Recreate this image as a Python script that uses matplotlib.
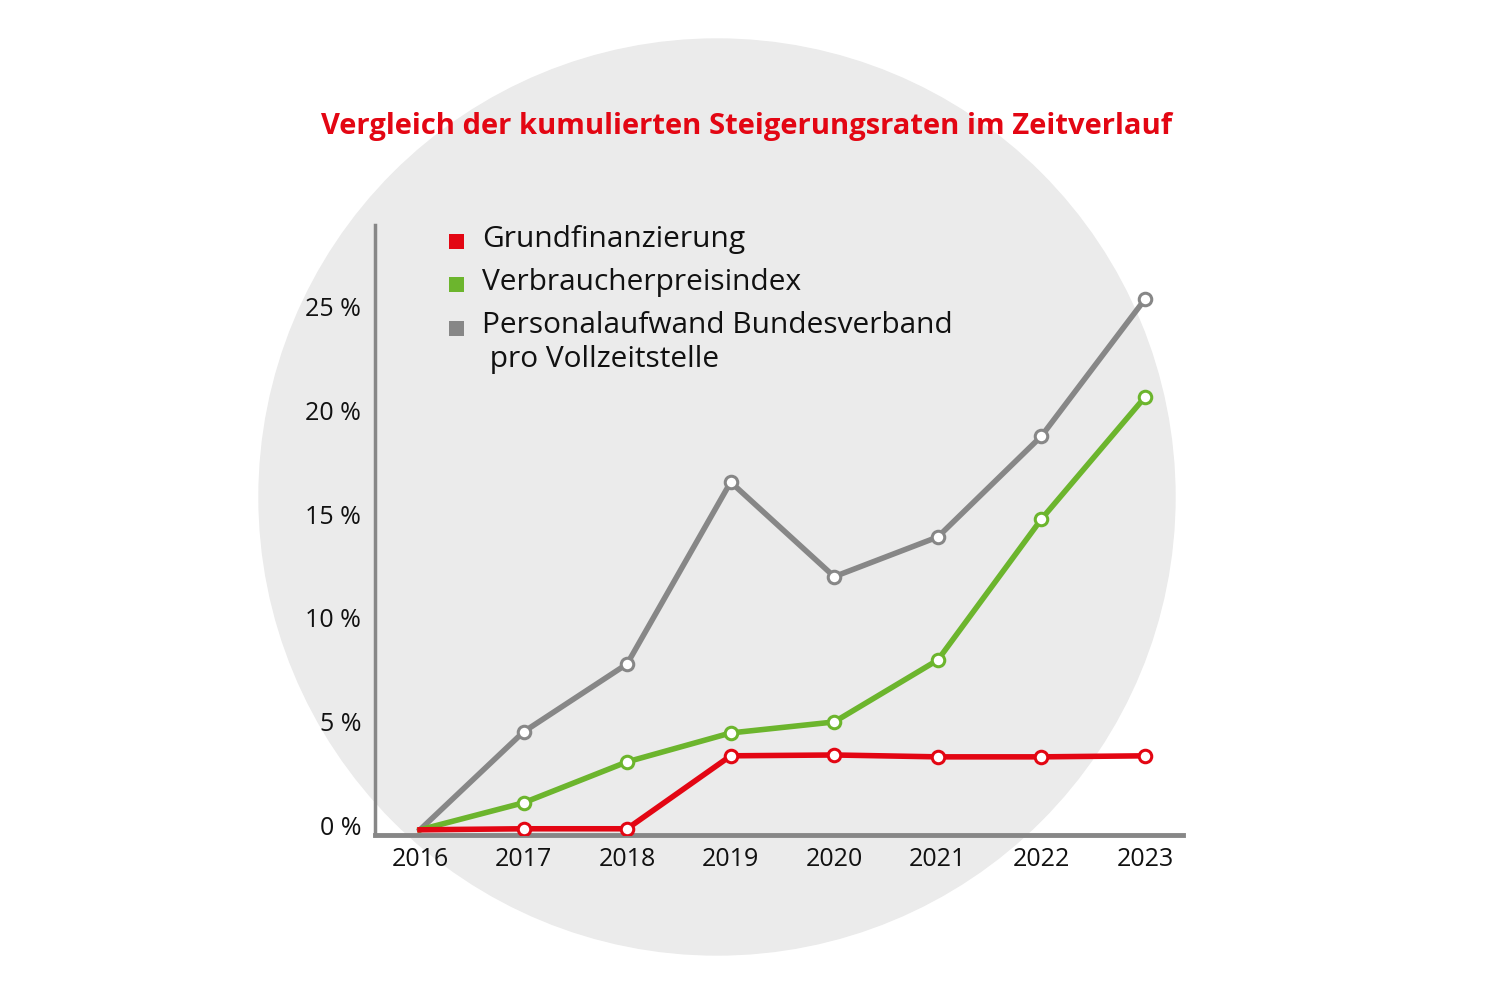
import matplotlib
matplotlib.use("Agg")
import matplotlib.pyplot as plt
import matplotlib.transforms as mtransforms
from matplotlib.patches import Circle, Rectangle

# data (kumulierte Steigerung in %)
years = [2016, 2017, 2018, 2019, 2020, 2021, 2022, 2023]
grundfinanzierung = [0, 0.05, 0.05, 3.56, 3.6, 3.51, 3.51, 3.56]
verbraucherpreis = [0, 1.3, 3.27, 4.66, 5.19, 8.17, 14.95, 20.82]
personalaufwand = [0, 4.71, 7.98, 16.73, 12.18, 14.09, 18.94, 25.53]
ytick_vals = [0, 5, 10, 15, 20, 25]
ytick_labels = ["0 %", "5 %", "10 %", "15 %", "20 %", "25 %"]
legend_labels = ["Grundfinanzierung", "Verbraucherpreisindex",
                 "Personalaufwand Bundesverband", " pro Vollzeitstelle"]

red = "#e30613"
green = "#6cb52d"
grey = "#878787"

plt.rcParams['font.family'] = ['Open Sans', 'DejaVu Sans']

W, H = 1486, 991
fig = plt.figure(figsize=(W / 100, H / 100), dpi=100)

# grey circle in background (pixel coords)
bg = fig.add_axes([0, 0, 1, 1])
bg.set_xlim(0, W)
bg.set_ylim(H, 0)
bg.axis("off")
bg.add_patch(Circle((717, 497), 458, color="#ebebeb", zorder=0))

bg.text(747, 134, "Vergleich der kumulierten Steigerungsraten im Zeitverlauf",
        color=red, fontsize=21, fontweight="bold", ha="center", va="baseline")

# legend drawn by hand: square + text
sq = 15
for col, yc in zip((red, green, grey), (241, 284, 328)):
    bg.add_patch(Rectangle((456 - sq / 2, yc - sq / 2), sq, sq, color=col, lw=0))
for lab, yb in zip(legend_labels, (247, 290, 333, 367)):
    bg.text(482, yb, lab, fontsize=21.5, va="baseline", ha="left", color="#111111")

ax = fig.add_axes([375 / W, 1 - 835 / H, 808 / W, 610 / H])
ax.patch.set_alpha(0)

series = [(personalaufwand, grey), (verbraucherpreis, green), (grundfinanzierung, red)]
for vals, col in series:
    ax.plot(years, vals, color=col, lw=4, solid_joinstyle="round", zorder=3)
    ax.plot(years[1:], vals[1:], ls="none", marker="o", ms=9, mfc="white",
            mec=col, mew=2.2, zorder=4)

ax.set_xlim(2015.566, 2023.367)
ax.set_ylim(-0.25, 29.1)
ax.set_xticks(years)
ax.set_xticklabels([str(y) for y in years])
ax.set_yticks(ytick_vals)
ax.set_yticklabels(ytick_labels)
ax.tick_params(length=0, labelsize=18, colors="#111111")
ax.tick_params(axis="y", pad=10)
ax.tick_params(axis="x", pad=9)
# y labels sit a few pixels above their gridline in the original
shift = mtransforms.ScaledTranslation(0, 4 / 100, fig.dpi_scale_trans)
for lab in ax.get_yticklabels():
    lab.set_transform(lab.get_transform() + shift)
for s in ["top", "right"]:
    ax.spines[s].set_visible(False)
ax.spines["left"].set_color(grey)
ax.spines["left"].set_linewidth(2.5)
ax.spines["bottom"].set_color(grey)
ax.spines["bottom"].set_linewidth(3.5)

fig.savefig("out.png", dpi=100)
